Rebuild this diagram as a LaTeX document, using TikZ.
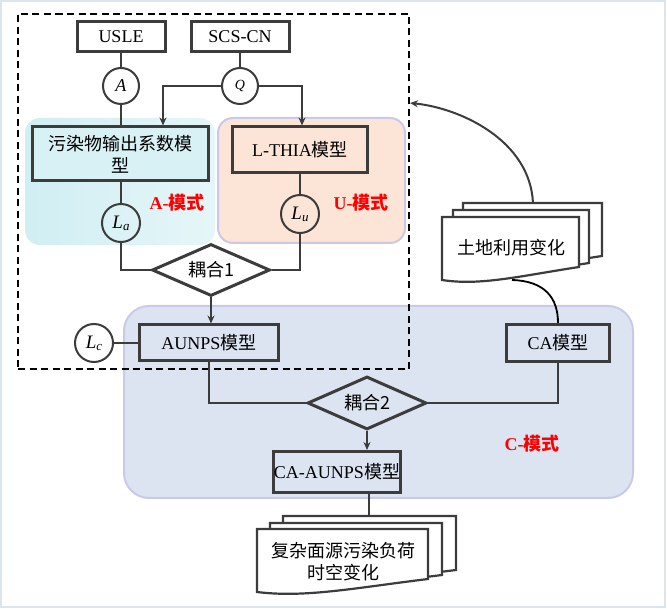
\documentclass[tikz,border=0pt]{standalone}
\usepackage{fontspec}
\setmainfont{Liberation Serif}
\newfontfamily\cjk{Noto Sans CJK SC}
\usetikzlibrary{shapes.geometric,arrows.meta}
\definecolor{edge}{HTML}{3C3C3C}
\definecolor{frame}{HTML}{DCE4EE}
\definecolor{cyanfill}{HTML}{D8F1F5}
\definecolor{cyanleft}{HTML}{D0EEF3}
\definecolor{cyanright}{HTML}{E6F6F8}
\definecolor{peach}{HTML}{FCE4D6}
\definecolor{cblue}{HTML}{DCE4F2}
\definecolor{lav}{HTML}{CACAE8}
\newcommand\Lsub[1]{\textit{L}\raisebox{-2pt}{\fontsize{13}{13}\selectfont\textit{#1}}}
\newcommand\mydocshape[4]{%
  \draw[docst] (#1,#2) -- (#3,#2) -- (#3,{#4-13})
    .. controls ({#1+0.57*(#3-#1)},{#4-4}) and ({#1+0.28*(#3-#1)},{#4+6}) .. (#1,#4) -- cycle;}
\begin{document}
\begin{tikzpicture}[x=1pt,y=-1pt,
  txt/.style={font=\fontsize{18}{22}\selectfont,align=center},
  box/.style={txt,draw=edge,line width=3pt,inner sep=0pt},
  circ/.style={circle,draw=edge,line width=2pt,minimum size=36pt,inner sep=0pt},
  circl/.style={circ,minimum size=38pt},
  dia/.style={txt,diamond,draw=edge,line width=3pt,inner sep=0pt,aspect=2.27},
  conn/.style={draw=edge,line width=2pt},
  arr/.style={conn,-{Stealth[length=8pt,width=7pt]}},
  region/.style={rounded corners=15pt,line width=2pt},
  modelabel/.style={text=red,font=\fontsize{18}{20}\selectfont\bfseries},
  docst/.style={draw=edge,line width=2.2pt,fill=white},
  dashst/.style={draw=black,line width=1.8pt,dash pattern=on 7pt off 4.5pt}
]
\useasboundingbox (0,0) rectangle (667,609);
\draw[frame,line width=2pt] (1,1) rectangle (665,607);

% regions
\path[region,left color=cyanleft,right color=cyanright] (25,118) rectangle (215,245);
\draw[region,draw=lav,fill=peach] (218,118) rectangle (405,243);
\draw[region,rounded corners=25pt,draw=lav,fill=cblue] (124,306) rectangle (633,498);

% dashed frame
\node[dashst,minimum width=391pt,minimum height=355pt,inner sep=0pt] (dash) at (213.5,191.5) {};

% nodes
\node[box,minimum width=88pt,minimum height=30pt] (usle) at (121,37) {USLE};
\node[box,minimum width=98pt,minimum height=30pt] (scs) at (240,37) {SCS-CN};
\node[circ] (cA) at (121,86) {\fontsize{18}{18}\selectfont\textit{A}};
\node[circ] (cQ) at (240,86) {\fontsize{14}{14}\selectfont\textit{Q}};
\node[box,fill=cyanfill,minimum width=176pt,minimum height=54pt] (poll) at (120,154) {\cjk 污染物输出系数模\\\cjk 型};
\node[box,fill=peach,minimum width=135pt,minimum height=46pt] (lthia) at (300,150) {L-THIA{\cjk 模型}};
\node[circl] (cLa) at (121,223) {\fontsize{19}{19}\selectfont\Lsub{a}};
\node[circl] (cLu) at (300,214) {\fontsize{19}{19}\selectfont\Lsub{u}};
\node[modelabel] (labA) at (177,203) {A-{\cjk 模式}};
\node[modelabel] (labU) at (361,203) {U-{\cjk 模式}};
\node[dia,minimum width=118pt,minimum height=52pt] (d1) at (211,270) {\cjk 耦合1};
\node[box,fill=cblue,minimum width=139pt,minimum height=36pt] (aunps) at (209,343) {AUNPS{\cjk 模型}};
\node[circl] (cLc) at (94,343) {\fontsize{19}{19}\selectfont\Lsub{c}};
\node[dia,minimum width=119pt,minimum height=53pt] (d2) at (367,403) {\cjk 耦合2};
\node[box,fill=cblue,minimum width=103pt,minimum height=37pt] (ca) at (558,343) {CA{\cjk 模型}};
\node[box,fill=cblue,minimum width=111pt,minimum height=41pt] (caa) at (337,472) {CA-AUNPS{\cjk 模型}};
\node[modelabel] (labC) at (532,444) {C-{\cjk 模式}};

% document stacks
\mydocshape{463}{203}{602}{269}
\mydocshape{453}{210}{589}{276}
\mydocshape{442}{217}{579}{280}
\node[txt] (land) at (511,248) {\cjk 土地利用变化};
\coordinate (ldtop) at (533,203);
\coordinate (ldbot) at (512,280);
\coordinate (tip) at (410,103);

\mydocshape{283}{516}{456}{583}
\mydocshape{270}{523}{442}{588}
\mydocshape{257}{529}{428}{592}
\node[txt] (pload) at (343,562) {\cjk 复杂面源污染负荷\\\cjk 时空变化};
\coordinate (pdtop) at (369,516);

% connectors
\draw[conn] (usle.south) -- (cA.north);
\draw[conn] (cA.south) -- (cA.south |- poll.north);
\draw[conn] (scs.south) -- (cQ.north);
\draw[arr] (cQ.west) -| ([xshift=43pt]poll.north);
\draw[arr] (cQ.east) -| ([xshift=2pt]lthia.north);
\draw[conn] (cLa.north |- poll.south) -- (cLa.north);
\draw[conn] (lthia.south) -- (cLu.north);
\draw[conn] (cLa.south) |- (d1.west);
\draw[conn] (cLu.south) |- (d1.east);
\draw[arr] (d1.south) -- (d1.south |- aunps.north);
\draw[conn] (cLc.east) -- (aunps.west);
\draw[conn] (aunps.south) |- (d2.west);
\draw[conn] (ca.south) |- (d2.east);
\draw[arr] (d2.south) -- (d2.south |- caa.north);
\draw[conn] (caa.south -| pdtop) -- (pdtop);
\draw[draw=black,line width=1.8pt] (ldbot) .. controls (545,281) and (558,298) .. (ca.north);
\draw[arr] (ldtop) .. controls (530,140) and (460,108) .. (tip);
\end{tikzpicture}
\end{document}
